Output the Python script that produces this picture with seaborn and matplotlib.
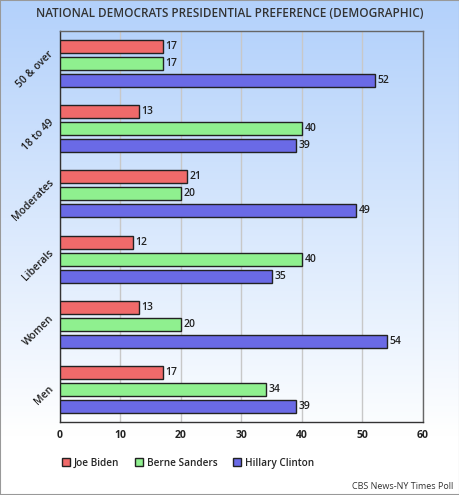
import numpy as np
import pandas as pd
import matplotlib
matplotlib.use('Agg')
import matplotlib.pyplot as plt
import matplotlib.transforms as mtransforms
from matplotlib.colors import LinearSegmentedColormap
import seaborn as sns

sns.set_style("white")
plt.rcParams['font.family'] = ['Open Sans', 'DejaVu Sans']

# data
groups = ['50 & over', '18 to 49', 'Moderates', 'Liberals', 'Women', 'Men']
candidates = ['Joe Biden', 'Berne Sanders', 'Hillary Clinton']
biden = [17, 13, 21, 12, 13, 17]
sanders = [17, 40, 20, 40, 20, 34]
clinton = [52, 39, 49, 35, 54, 39]

df = pd.DataFrame({'group': groups * 3,
                   'candidate': [c for c in candidates for _ in groups],
                   'value': biden + sanders + clinton})

colors = ['#f06a6a', '#8ff08f', '#6a6ae6']

fig = plt.figure(figsize=(4.6, 4.95), dpi=100, facecolor='white')

# figure gradient background (blue at top -> white at bottom)
bg = fig.add_axes([0, 0, 1, 1], zorder=-10)
bg_cmap = LinearSegmentedColormap.from_list(
    'figbg', [(0, '#ffffff'), (0.12, '#ffffff'), (1, '#b3d1fb')])
bg.imshow(np.linspace(0, 1, 256).reshape(-1, 1), aspect='auto', cmap=bg_cmap,
          extent=[0, 1, 0, 1], origin='lower')
bg.set_axis_off()

ax = fig.add_axes([60/460, (495-422)/495, 363/460, 391/495])
ax.set_facecolor('none')

# plot-area gradient
cmap = LinearSegmentedColormap.from_list('bg', ['#fbfdff', '#b6d3fb'])
ax.imshow(np.linspace(0, 1, 256).reshape(-1, 1), aspect='auto', cmap=cmap,
          extent=[0, 1, 0, 1], origin='lower', transform=ax.transAxes, zorder=0)

sns.barplot(data=df, x='value', y='group', hue='candidate', order=groups,
            hue_order=candidates, palette=colors, orient='h', width=0.785,
            gap=0.235, edgecolor='#222222', linewidth=1, saturation=1,
            ax=ax, zorder=3)

for cont in ax.containers:
    ax.bar_label(cont, padding=2, fontsize=7.5, fontweight='semibold',
                 color='#222222')

ax.set_xlim(0, 60)
ax.set_xticks(range(0, 61, 10))
ax.set_xticklabels([str(x) for x in range(0, 61, 10)], fontsize=7.5,
                   fontweight='bold', color='#222222')
ax.set_yticks(range(len(groups)))
ax.set_yticklabels([])
# rotated category labels, nudged a little down like the original
lab_tr = ax.get_yaxis_transform() + mtransforms.ScaledTranslation(
    -4/100, -6/100, fig.dpi_scale_trans)
for i, g in enumerate(groups):
    ax.text(0, i, g, transform=lab_tr, rotation=45, ha='right', va='center',
            fontsize=7.5, fontweight='semibold', color='#222222')
ax.tick_params(axis='y', length=0)
ax.tick_params(axis='x', length=0, pad=6)
ax.grid(axis='x', color='#c8c8c8', linewidth=1, zorder=1)
ax.set_axisbelow(True)
ax.set_xlabel('')
ax.set_ylabel('')
for side in ['left', 'bottom']:
    ax.spines[side].set_color('#333333')
for side in ['right', 'top']:
    ax.spines[side].set_color('#666666')
for s in ax.spines.values():
    s.set_visible(True)
    s.set_linewidth(1)

ax.legend(loc='center', bbox_to_anchor=(0.353, -0.105), ncol=3, frameon=False,
          prop={'weight': 'semibold', 'size': 7.2},
          handlelength=0.75, handleheight=0.75, columnspacing=1.6,
          handletextpad=0.4)

fig.text(0.5, 0.972, 'NATIONAL DEMOCRATS PRESIDENTIAL PREFERENCE (DEMOGRAPHIC)',
         ha='center', va='center', fontsize=8.5, fontweight='semibold',
         color='#333333')
fig.text(0.985, 0.018, 'CBS News-NY Times Poll', ha='right', va='center',
         fontsize=6.5, color='#333333')

fig.patches.append(plt.Rectangle((0, 0), 1, 1, transform=fig.transFigure,
                                 fill=False, edgecolor='#999999', linewidth=1.5))

fig.savefig('out.png', dpi=100)
